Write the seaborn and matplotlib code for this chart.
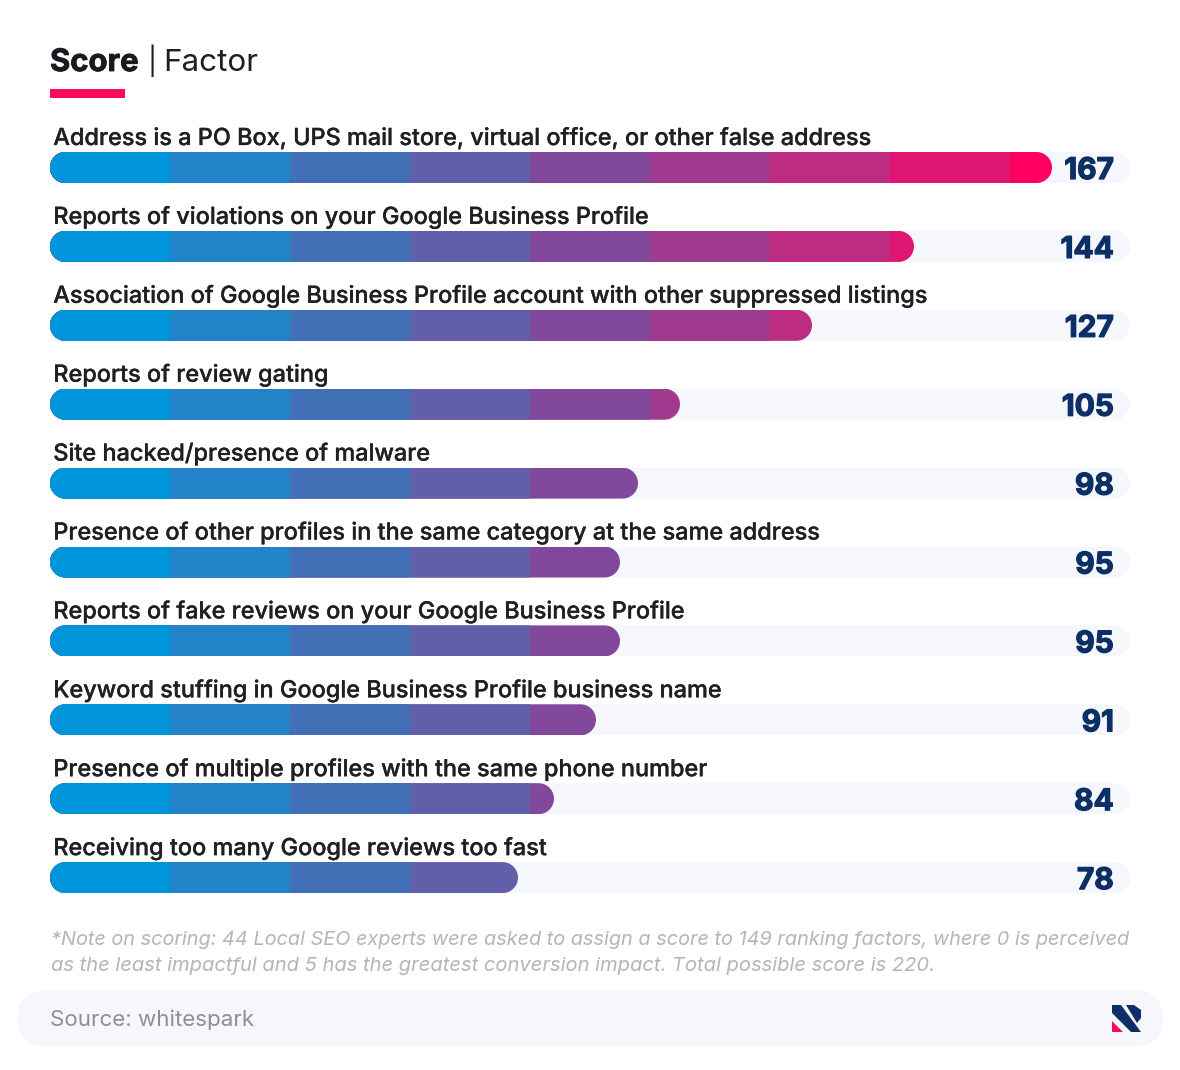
import matplotlib
matplotlib.use("Agg")
import matplotlib.pyplot as plt
import matplotlib.patheffects as pe
from matplotlib.patches import FancyBboxPatch, Rectangle, Polygon
from matplotlib.path import Path
import numpy as np
import pandas as pd
import seaborn as sns

FACTORS = [
    "Address is a PO Box, UPS mail store, virtual office, or other false address",
    "Reports of violations on your Google Business Profile",
    "Association of Google Business Profile account with other suppressed listings",
    "Reports of review gating",
    "Site hacked/presence of malware",
    "Presence of other profiles in the same category at the same address",
    "Reports of fake reviews on your Google Business Profile",
    "Keyword stuffing in Google Business Profile business name",
    "Presence of multiple profiles with the same phone number",
    "Receiving too many Google reviews too fast",
]
SCORES = [167, 144, 127, 105, 98, 95, 95, 91, 84, 78]
BAND_TOPS = [20, 40, 60, 80, 100, 120, 140, 160, 180]
BAND_COLORS = ["#0095DB", "#2283C8", "#4270B7", "#625FAA", "#81489C",
               "#A03A8F", "#BE2B83", "#DF1574", "#FF0060"]
TRACK_MAX = 180

W, H = 1180, 1070
STEP = 78.9
BAR_H = 31

sns.set_theme(style="white")
plt.rcParams["font.family"] = ["Inter", "DejaVu Sans"]

fig = plt.figure(figsize=(W / 100, H / 100), dpi=100, facecolor="white")
top_px = 167.5 - STEP / 2
ax = fig.add_axes([50 / W, 1 - (top_px + 10 * STEP) / H, 1080 / W, 10 * STEP / H])

track = pd.DataFrame({"factor": FACTORS, "limit": [TRACK_MAX] * len(FACTORS)})
sns.barplot(data=track, y="factor", x="limit", order=FACTORS, color="#F6F7FD",
            saturation=1, width=BAR_H / STEP, errorbar=None, linewidth=0, ax=ax)
n_track = len(ax.patches)

rows = []
for factor, score in zip(FACTORS, SCORES):
    low = 0
    for i, top in enumerate(BAND_TOPS):
        if score > low:
            rows.append({"factor": factor, "band": i, "end": min(score, top)})
        low = top
segments = pd.DataFrame(rows)
palette = dict(enumerate(BAND_COLORS))
sns.barplot(data=segments, y="factor", x="end", hue="band", order=FACTORS,
            hue_order=list(range(len(BAND_TOPS)))[::-1], palette=palette, dodge=False,
            saturation=1, width=BAR_H / STEP, errorbar=None, linewidth=0,
            legend=False, ax=ax)

ax.set_xlim(0, 180)
ax.set_ylim(len(FACTORS) - 0.5, -0.5)
ax.axis("off")

bar_h = BAR_H / STEP
radius_x = (BAR_H / 2) / 6


def pill(idx, value):
    """Fully rounded bar outline in data coordinates."""
    t = np.linspace(np.pi / 2, 3 * np.pi / 2, 40)
    left = np.column_stack([radius_x + radius_x * np.cos(t), idx - (bar_h / 2) * np.sin(t)])
    right = np.column_stack([value - radius_x - radius_x * np.cos(t), idx + (bar_h / 2) * np.sin(t)])
    verts = np.vstack([left, right, left[:1]])
    codes = [Path.MOVETO] + [Path.LINETO] * (len(verts) - 2) + [Path.CLOSEPOLY]
    return Path(verts, codes)


for n, patch in enumerate(ax.patches):
    if patch.get_width() <= 0:
        continue
    idx = int(round(patch.get_y() + patch.get_height() / 2))
    value = TRACK_MAX if n < n_track else SCORES[idx]
    patch.set_clip_path(pill(idx, value), ax.transData)

for i, (factor, score) in enumerate(zip(FACTORS, SCORES)):
    ax.text(0.55, i - 22.5 / STEP, factor, ha="left", va="baseline", fontsize=16.9,
            fontweight="medium", color="#1F1F24",
            path_effects=[pe.withStroke(linewidth=0.2, foreground="#1F1F24")])
    ax.text(177.3, i + 11.5 / STEP, str(score), ha="right", va="baseline", fontsize=21.5,
            fontweight="bold", color="#0C2F66",
            path_effects=[pe.withStroke(linewidth=0.9, foreground="#0C2F66")])


def fx(x):
    return x / W


def fy(y):
    return 1 - y / H


fig.text(fx(50), fy(71), "Score", fontsize=22.3, fontweight="bold", color="#1A1A20", va="baseline",
         path_effects=[pe.withStroke(linewidth=0.6, foreground="#1A1A20")])
fig.text(fx(147.5), fy(71), "|", fontsize=20, color="#1F1F24", va="baseline")
fig.text(fx(163), fy(71), "Factor", fontsize=22.6, color="#1F1F24", va="baseline")
fig.add_artist(Rectangle((fx(50), fy(98)), 75 / W, 9 / H, transform=fig.transFigure,
                         facecolor="#FF0A60", edgecolor="none"))

fig.text(fx(51), fy(945),
         "*Note on scoring: 44 Local SEO experts were asked to assign a score to 149 ranking factors, where 0 is perceived",
         fontsize=14.3, style="italic", color="#B4B4BC", va="baseline")
fig.text(fx(51), fy(971),
         "as the least impactful and 5 has the greatest conversion impact. Total possible score is 220.",
         fontsize=14.5, style="italic", color="#B4B4BC", va="baseline")

fig.add_artist(FancyBboxPatch((18, H - 1046), 1145, 55,
                              boxstyle="round,pad=0,rounding_size=27",
                              transform=None, facecolor="#F6F6FC", edgecolor="none"))
fig.text(fx(50), fy(1025.5), "Source: whitespark", fontsize=16.1, color="#8E8E96", va="baseline")

navy = "#0C2F66"
for pts, col in [
    ([(1112, 1005), (1121, 1005), (1141, 1032), (1131, 1032), (1112, 1013)], navy),
    ([(1126, 1005), (1134, 1005), (1141, 1010), (1141, 1018), (1137, 1023)], navy),
    ([(1112, 1021), (1123, 1032), (1112, 1032)], "#FF0A60"),
]:
    fig.add_artist(Polygon([(fx(x), fy(y)) for x, y in pts], closed=True,
                           transform=fig.transFigure, facecolor=col, edgecolor="none"))

fig.savefig("out.png", dpi=100, facecolor="white")
